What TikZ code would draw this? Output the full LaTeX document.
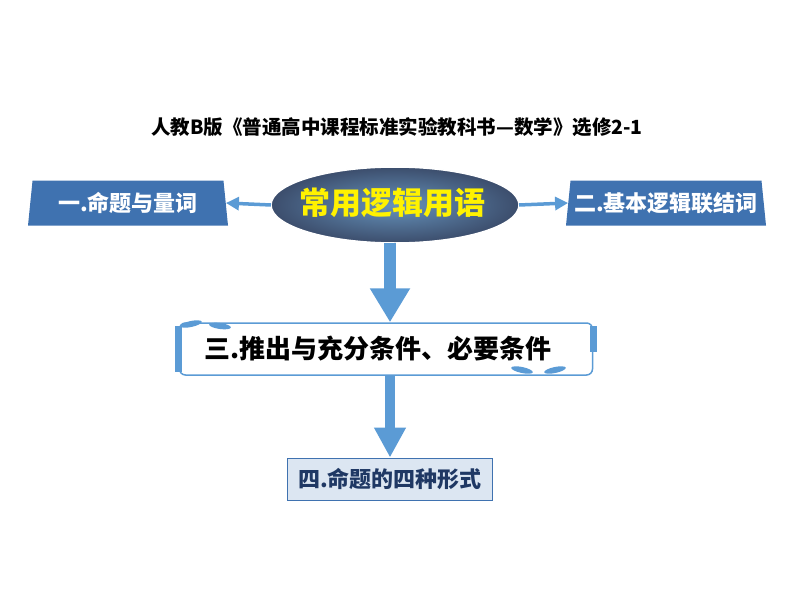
\documentclass[tikz,border=0pt]{standalone}
\usepackage{fontspec}
\setmainfont{Noto Sans CJK SC}
\usetikzlibrary{arrows.meta,shapes.geometric,positioning}
\definecolor{boxblue}{HTML}{3F72B0}
\definecolor{arrowblue}{HTML}{5B9BD5}
\definecolor{paleblue}{HTML}{DCE6F2}
\definecolor{navy}{HTML}{1F3864}
\begin{document}
\begin{tikzpicture}[x=1pt, y=-1pt,
    trap/.style={trapezium, trapezium angle=78, draw=none, fill=boxblue, text=white,
        font=\fontsize{22}{24}\selectfont\bfseries, minimum width=200pt, minimum height=45pt,
        trapezium stretches body, inner sep=0pt},
    side/.style={-{Triangle[width=13pt,length=13pt]}, arrowblue, line width=3.5pt},
    block/.style={arrowblue, line width=12pt, -{Triangle[width=38pt,length=34pt]}},
    block2/.style={arrowblue, line width=10pt, -{Triangle[width=30pt,length=30pt]}},
    quote/.style={fill=arrowblue, ellipse, minimum width=22pt, minimum height=6pt, inner sep=0pt}
]
\useasboundingbox (0,0) rectangle (794,596);

% title
\node[font=\fontsize{19.5}{21}\selectfont\bfseries] (title) at (397,127)
    {人教B版《普通高中课程标准实验教科书—数学》选修2-1};

% centre
\shade[inner color=arrowblue!70!gray, outer color=navy!70!gray, draw=white, line width=1.5pt]
    (395,205) ellipse [x radius=124, y radius=38];
\node[font=\fontsize{31}{32}\selectfont\bfseries, text=yellow] (main) at (392,203) {常用逻辑用语};
\coordinate (mainW) at (271,205);
\coordinate (mainE) at (519,205);
\coordinate (mainS) at (390,243);

% side boxes
\node[trap] (one) at (128,203) {一.命题与量词};
\node[trap] (two) at (666,203) {二.基本逻辑联结词};
\draw[side] (mainW) -- (one.east);
\draw[side] (mainE) -- (two.west);

% middle box
\node[draw=arrowblue, line width=1.5pt, rounded corners=6pt, minimum width=413pt, minimum height=52pt,
    text width=400pt, align=center] (three) at (386,349) {};
\draw[arrowblue, line width=7pt] ([yshift=-4pt]three.north west) -- ([yshift=4pt]three.south west);
\draw[arrowblue, line width=7pt] ([yshift=-4pt]three.north east) -- ([yshift=-30pt]three.north east);
\node[font=\fontsize{26}{28}\selectfont\bfseries] (threetext) at (378,349) {三.推出与充分条件、必要条件};
\node[quote, rotate=12] (q1) at (191,324) {};
\node[quote, rotate=-8] (q2) at (220,326) {};
\node[quote, rotate=-12] (q3) at (522,370) {};
\node[quote, rotate=12] (q4) at (555,370) {};
\draw[block] (mainS) -- (three.north -| mainS);

% bottom box
\node[draw=boxblue, fill=paleblue, line width=1pt, minimum width=205pt, minimum height=42pt,
    text=navy, font=\fontsize{22}{24}\selectfont\bfseries] (four) at (390,479) {四.命题的四种形式};
\draw[block2] (three.south -| four.north) -- (four.north);
\end{tikzpicture}
\end{document}
